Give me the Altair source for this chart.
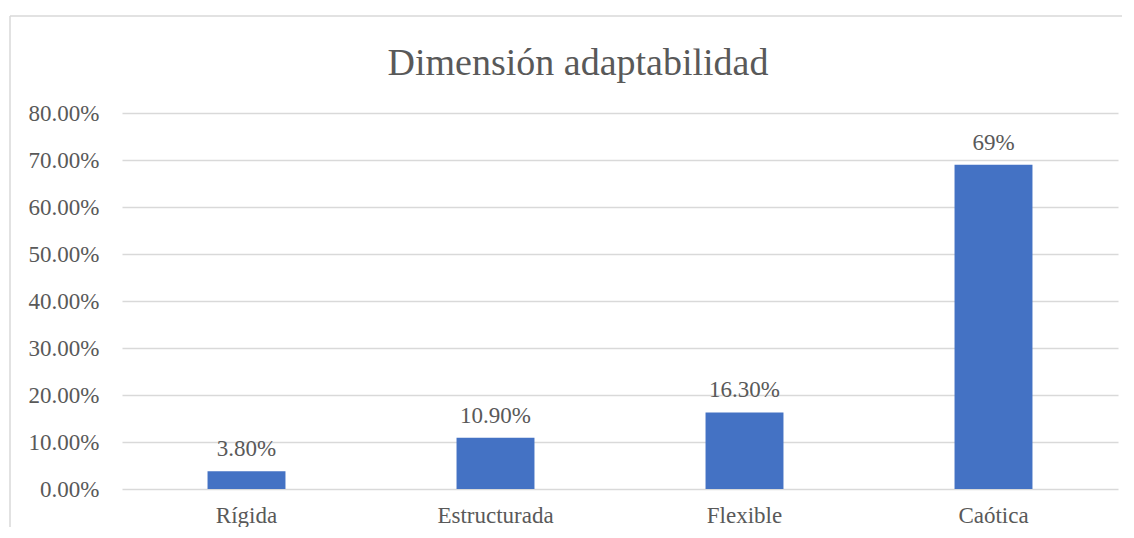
import altair as alt
import pandas as pd

categories = ["Rígida", "Estructurada", "Flexible", "Caótica"]
values = [0.038, 0.109, 0.163, 0.69]
labels = ["3.80%", "10.90%", "16.30%", "69%"]
y_ticks = [0, 0.1, 0.2, 0.3, 0.4, 0.5, 0.6, 0.7, 0.8]

df = pd.DataFrame({"cat": categories, "val": values, "lab": labels})

FONT = "Liberation Serif"
GRAY = "#595959"

x = alt.X("cat:N", sort=categories, title=None,
          scale=alt.Scale(paddingInner=0.687, paddingOuter=0.3435),
          axis=alt.Axis(labelAngle=0, ticks=False, domain=False, labelPadding=15,
                        labelFontSize=23, labelFont=FONT, labelColor=GRAY))
y = alt.Y("val:Q", title=None,
          scale=alt.Scale(domain=[0, 0.8], nice=False),
          axis=alt.Axis(values=y_ticks, format=".2%", ticks=False, domain=False,
                        labelPadding=23, labelFontSize=23, labelFont=FONT,
                        labelColor=GRAY, gridColor="#D9D9D9", gridWidth=1.3))

base = alt.Chart(df)
bars = base.mark_bar(color="#4472C4").encode(x=x, y=y)
text = base.mark_text(font=FONT, fontSize=23, color=GRAY, baseline="alphabetic", dy=-15).encode(
    x=alt.X("cat:N", sort=categories), y="val:Q", text="lab:N")

frame_df = pd.DataFrame({"a": [0]})
vline = alt.Chart(frame_df).mark_rule(color="#D9D9D9", strokeWidth=1.5).encode(
    x=alt.value(-112), y=alt.value(-97), y2=alt.value(440))
hline = alt.Chart(frame_df).mark_rule(color="#D9D9D9", strokeWidth=1.5).encode(
    x=alt.value(-112), x2=alt.value(1100), y=alt.value(-97))

chart = alt.layer(vline, hline, bars, text).properties(
    width=996, height=376,
    title=alt.TitleParams("Dimensión adaptabilidad", font=FONT, fontSize=38,
                          fontWeight="normal", color=GRAY, anchor="middle",
                          frame="group", baseline="alphabetic", offset=-98, dx=-42),
    autosize=alt.AutoSizeParams(type="none"),
    padding={"left": 114, "top": 105, "right": 4, "bottom": 38},
).configure_view(stroke=None)

chart.save("out.html", embed_options={"renderer": "svg", "actions": False})
